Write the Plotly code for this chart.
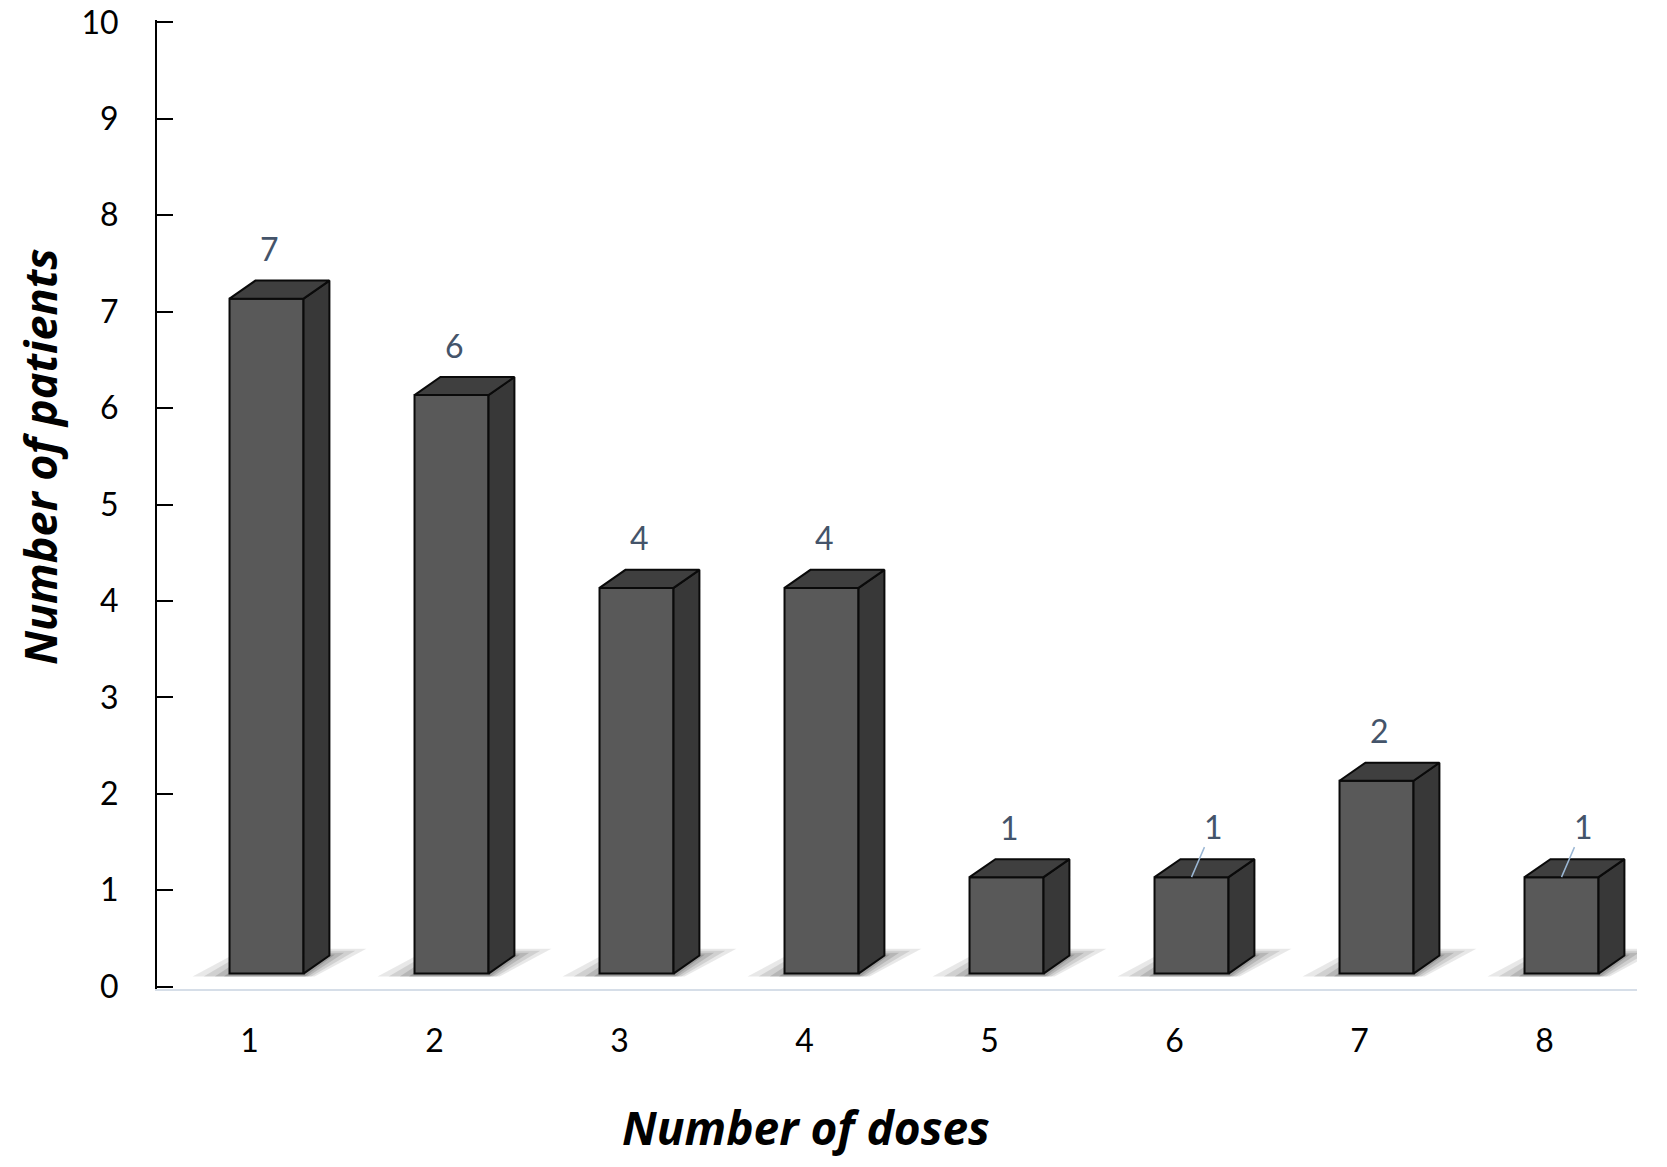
import plotly.graph_objects as go

doses = [1, 2, 3, 4, 5, 6, 7, 8]
patients = [7, 6, 4, 4, 1, 1, 2, 1]
y_ticks = [0, 1, 2, 3, 4, 5, 6, 7, 8, 9, 10]
leader_bars = [6, 8]

# 3D bar geometry (in data units)
OFFSET = -0.108   # front face left edge relative to category
WIDTH = 0.40      # front face width
LIFT = 0.135      # front face raised above the floor
DX = 0.14         # depth offset x
DY = 0.187        # depth offset y

FRONT = "#595959"
SIDE = "#383838"
TOP = "#3f3f3f"
EDGE = "#0a0a0a"
LABEL = "#44546A"
FONT = "Lato"
TITLE_FONT = "Open Sans"

fig = go.Figure()

# front faces
fig.add_trace(go.Bar(
    x=doses, y=patients, base=[LIFT] * len(doses),
    offset=OFFSET, width=WIDTH,
    marker=dict(color=FRONT, line=dict(color=EDGE, width=2)),
    hoverinfo="skip", showlegend=False,
))

shapes = []
for d, v in zip(doses, patients):
    fl = d + OFFSET
    fr = fl + WIDTH
    b = LIFT
    t = v + LIFT
    # side face
    fig.add_trace(go.Scatter(
        x=[fr, fr + DX, fr + DX, fr, fr],
        y=[b, b + DY, t + DY, t, b],
        fill="toself", fillcolor=SIDE, mode="lines",
        line=dict(color=EDGE, width=2), hoverinfo="skip", showlegend=False,
    ))
    # top face
    fig.add_trace(go.Scatter(
        x=[fl, fl + DX, fr + DX, fr, fl],
        y=[t, t + DY, t + DY, t, t],
        fill="toself", fillcolor=TOP, mode="lines",
        line=dict(color=EDGE, width=2), hoverinfo="skip", showlegend=False,
    ))
    # soft floor shadow: blurred footprint built from layers
    for ex, ey, op in [(0.20, 0.07, 0.09), (0.14, 0.05, 0.10),
                       (0.08, 0.03, 0.12), (0.03, 0.01, 0.14)]:
        y0 = b - 0.03
        y1 = b + DY + ey
        path = (f"M {fl - ex},{y0} L {fr + ex * 0.3},{y0} "
                f"L {fr + DX + ex},{y1} L {fl + DX - ex * 0.3},{y1} Z")
        shapes.append(dict(type="path", path=path, xref="x", yref="y",
                           fillcolor=f"rgba(0,0,0,{op})", line=dict(width=0),
                           layer="below"))

annotations = []
for d, v in zip(doses, patients):
    cx = d + OFFSET + WIDTH / 2
    top = v + LIFT
    if d in leader_bars:
        annotations.append(dict(
            x=cx, y=top, xref="x", yref="y", text=str(v),
            showarrow=True, arrowhead=0, arrowwidth=1.5, arrowcolor="#9bb7d4",
            ax=22, ay=-51, font=dict(family=FONT, size=32, color=LABEL),
        ))
    else:
        annotations.append(dict(
            x=cx, y=top, xref="x", yref="y", text=str(v), showarrow=False,
            xshift=3, yshift=50, font=dict(family=FONT, size=32, color=LABEL),
        ))

annotations.append(dict(
    x=-0.0797, y=0.549, xref="paper", yref="paper", textangle=-90,
    xanchor="center", yanchor="middle",
    text="<b><i>Number of patients</i></b>", showarrow=False,
    font=dict(family=TITLE_FONT, size=45, color="#000000"),
))
annotations.append(dict(
    x=0.4385, y=-0.1424, xref="paper", yref="paper",
    xanchor="center", yanchor="middle",
    text="<b><i>Number of doses</i></b>", showarrow=False,
    font=dict(family=TITLE_FONT, size=46, color="#000000"),
))

fig.update_layout(
    width=1651, height=1151,
    margin=dict(l=149, r=22, t=12, b=170, autoexpand=False),
    plot_bgcolor="white", paper_bgcolor="white",
    shapes=shapes, annotations=annotations,
    font=dict(family=FONT, size=32, color="#000000"),
    showlegend=False,
    xaxis=dict(
        range=[0.5, 8.5], tickmode="array", tickvals=doses,
        ticktext=[str(d) for d in doses],
        showline=True, linecolor="#d6dee8", linewidth=2,
        showgrid=False, zeroline=False, ticks="",
        ticklabelstandoff=23, ticklabeloverflow="allow", automargin=False,
        tickfont=dict(family=FONT, size=32, color="#000000"),
    ),
    yaxis=dict(
        range=[-0.025, 10.025], tickmode="array", tickvals=y_ticks,
        showline=True, linecolor="#000000", linewidth=2,
        ticks="inside", ticklen=16, tickwidth=2, tickcolor="#000000",
        showgrid=False, zeroline=False,
        ticklabelstandoff=30, ticklabeloverflow="allow", automargin=False,
        tickfont=dict(family=FONT, size=32, color="#000000"),
    ),
)

fig.write_html("out.html")
